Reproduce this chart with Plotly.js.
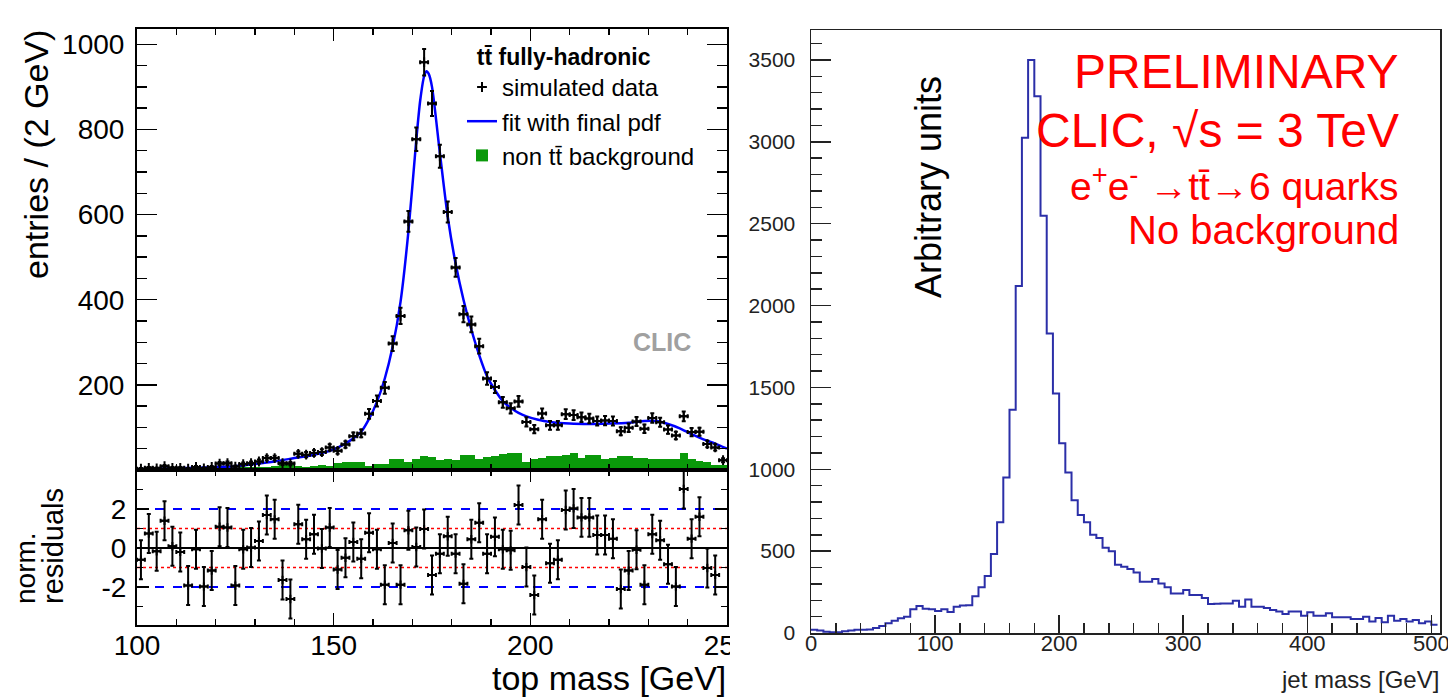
<!DOCTYPE html>
<html>
<head>
<meta charset="utf-8">
<script src="https://cdn.plot.ly/plotly-3.0.1.min.js"></script>
<style>
html,body{margin:0;padding:0;background:#ffffff;}
#chart{width:1448px;height:697px;}
</style>
</head>
<body>
<div id="chart"></div>
<script>
// ---------- left panel: top mass fit (2 GeV bins) ----------
const topMassCenters = [101,103,105,107,109,111,113,115,117,119,
  121,123,125,127,129,131,133,135,137,139,
  141,143,145,147,149,151,153,155,157,159,
  161,163,165,167,169,171,173,175,177,179,
  181,183,185,187,189,191,193,195,197,199,
  201,203,205,207,209,211,213,215,217,219,
  221,223,225,227,229,231,233,235,237,239,
  241,243,245,247,249];
const simulatedData = [3,5,4,9,5,5,3,7,4,7,
  15,16,8,14,16,20,28,28,16,15,
  38,36,40,42,53,45,60,79,86,132,
  162,193,297,362,584,777,958,861,737,606,
  476,366,342,291,215,195,159,145,161,113,
  96,133,105,105,131,129,124,121,115,116,
  115,91,99,114,97,122,112,95,81,126,
  89,90,61,53,23];
const nonTTbarBackground = [1,2,1,2,2,3,2,3,3,4,
  4,5,4,6,7,8,7,10,15,14,
  9,8,9,12,10,17,18,18,18,10,
  14,14,26,26,18,26,33,30,24,26,
  24,35,35,27,30,32,38,40,40,18,
  27,29,32,32,35,40,29,35,35,27,
  29,32,32,29,29,27,27,25,25,40,
  27,22,18,12,11];
const normResiduals = [-0.6,0.74,-0.17,1.4,0.09,-0.2,-1.93,-0.07,-1.98,-1.16,
  1.09,1.05,-1.93,-0.07,0.02,0.36,1.69,1.47,-1.64,-2.62,
  1.22,0.45,0.71,-0.03,1.05,-1.1,-0.5,0.31,-0.55,0.78,
  -0.07,-1.88,0.26,-1.88,0.91,0.05,0.97,-1.38,-0.29,0.6,
  -0.29,-1.84,0.45,1.29,-0.29,0.57,-0.07,-0.12,2.2,-0.98,
  -2.41,1.48,-0.78,-0.6,1.95,2.03,1.57,1.57,0.66,0.66,
  0.48,-2.1,-1.16,-0.09,-1.88,0.71,0.4,-0.84,-1.98,3.03,
  0.48,1.6,-1.03,-1.38,-7.0];
const fitMass = [100,105,110,115,120,125,130,135,140,145,149,153,157,159,161,163,165,167,169,171,172,173,173.6,174.2,175,177,179,181,183,185,187,189,191,193,195,197,199,202,205,210,215,220,225,229,232,235,238,241,244,247,250];
const fitValue = [2,3,4,5,7,9,14,20,28,36,45,62,90,120,160,215,290,395,560,775,868,925,937,930,900,745,595,485,400,330,270,220,188,162,146,134,126,118,113,109,108,109,111,115,115,108,98,84,72,62,50];
const residualLevels = [2, 1, 0, -1, -2];

// ---------- right panel: jet mass (5 GeV bins) ----------
const jetMassBinLowEdges = [0,5,10,15,20,25,30,35,40,45,50,55,60,65,70,75,80,85,90,95,
  100,105,110,115,120,125,130,135,140,145,150,155,160,165,170,175,180,185,190,195,
  200,205,210,215,220,225,230,235,240,245,250,255,260,265,270,275,280,285,290,295,
  300,305,310,315,320,325,330,335,340,345,350,355,360,365,370,375,380,385,390,395,
  400,405,410,415,420,425,430,435,440,445,450,455,460,465,470,475,480,485,490,495,500];
const jetMassUpperEdge = 505;
const jetMassCounts = [20,15,8,5,5,10,15,20,20,22,
  30,43,60,75,90,100,145,165,148,145,
  135,145,128,160,168,170,225,280,348,483,
  676,949,1364,2120,3025,3500,3278,2549,1830,1463,
  1159,980,811,720,676,600,580,520,499,417,
  405,391,370,313,313,330,303,279,242,242,
  263,232,232,214,177,178,180,180,197,161,
  204,161,161,153,140,132,116,132,132,106,
  126,106,106,120,96,96,96,86,86,100,
  71,92,65,106,75,86,71,79,59,71,
  51];

// ---------- geometry helpers (page pixels -> paper fractions) ----------
const W = 1448, H = 697;
const px = x => x / W;
const py = y => 1 - y / H;
const FONT = 'Liberation Sans, Arial, sans-serif';

const traces = [
  {
    type: 'bar', x: topMassCenters, y: nonTTbarBackground, width: 2,
    xaxis: 'x', yaxis: 'y',
    marker: {color: '#0a990a', line: {width: 0}},
    name: 'non tt\u0304 background',
    legendgroup: 'c', legendrank: 3
  },
  {
    type: 'scatter', mode: 'lines', x: fitMass, y: fitValue,
    xaxis: 'x', yaxis: 'y',
    line: {color: '#0000ff', width: 2.5, shape: 'spline', smoothing: 0.7},
    name: 'fit with final pdf', legendgroup: 'b', legendrank: 2
  },
  {
    type: 'scatter', mode: 'markers', x: topMassCenters, y: simulatedData,
    xaxis: 'x', yaxis: 'y',
    marker: {symbol: 'cross-thin', size: 7, color: '#000', line: {width: 2, color: '#000'}},
    error_y: {type: 'data', array: simulatedData.map(v => Math.sqrt(v)), color: '#000', thickness: 2, width: 2},
    error_x: {type: 'constant', value: 1, color: '#000', thickness: 2, width: 2},
    name: 'simulated data', legendgroup: 'a', legendrank: 1
  },
  {
    type: 'scatter', mode: 'markers', x: topMassCenters, y: normResiduals,
    xaxis: 'x2', yaxis: 'y2',
    marker: {symbol: 'cross-thin', size: 6, color: '#000', line: {width: 2, color: '#000'}},
    error_y: {type: 'constant', value: 1, color: '#000', thickness: 2, width: 2},
    error_x: {type: 'constant', value: 1, color: '#000', thickness: 2, width: 2},
    showlegend: false, hoverinfo: 'skip'
  },
  {
    type: 'scatter', mode: 'lines',
    x: jetMassBinLowEdges.concat([jetMassUpperEdge]),
    y: jetMassCounts.concat([jetMassCounts[jetMassCounts.length - 1]]),
    xaxis: 'x3', yaxis: 'y3',
    line: {color: '#2b2fa8', width: 2, shape: 'hv'},
    showlegend: false
  }
];

const levelStyle = {2: {color: '#0000ff', width: 2, dash: 'dash'},
                    1: {color: '#ff0000', width: 1.5, dash: 'dot'},
                    0: {color: '#000000', width: 2, dash: 'solid'}};
const shapes = residualLevels.map(l => ({
  type: 'line', xref: 'x2 domain', yref: 'y2', x0: 0, x1: 1, y0: l, y1: l,
  line: levelStyle[Math.abs(l)], layer: 'below'
}));
// white mask reproducing the cropped "25" label at the panel edge
shapes.push({type: 'rect', xref: 'paper', yref: 'paper', x0: px(730), x1: px(758), y0: py(668), y1: py(628),
  fillcolor: '#ffffff', line: {width: 0}, layer: 'above'});

const axisCommon = {showgrid: false, zeroline: false, showline: true, linecolor: '#000', linewidth: 2,
  ticks: 'inside', tickcolor: '#000', tickwidth: 1.5, tickfont: {family: FONT, size: 28, color: '#000'}};

const layout = {
  width: W, height: H, autosize: false,
  margin: {l: 0, r: 0, t: 0, b: 0, pad: 0},
  paper_bgcolor: '#ffffff', plot_bgcolor: '#ffffff',
  font: {family: FONT, color: '#000'},
  bargap: 0,
  showlegend: true,
  xaxis: Object.assign({}, axisCommon, {
    domain: [px(137), px(727)], range: [100, 250], anchor: 'y',
    tickmode: 'linear', tick0: 0, dtick: 50, ticklen: 12, mirror: 'ticks', showticklabels: false,
    minor: {tickmode: 'linear', tick0: 0, dtick: 10, ticklen: 6, ticks: 'inside', tickcolor: '#000', tickwidth: 1.5}
  }),
  yaxis: Object.assign({}, axisCommon, {
    domain: [py(470), py(29)], range: [0, 1036], anchor: 'x',
    tickmode: 'array', tickvals: [200, 400, 600, 800, 1000], ticktext: ['200', '400', '600', '800', '1000'],
    ticklen: 20, mirror: 'ticks', ticklabelstandoff: 5,
    minor: {tickmode: 'linear', tick0: 0, dtick: 50, ticklen: 10, ticks: 'inside', tickcolor: '#000', tickwidth: 1.5}
  }),
  xaxis2: Object.assign({}, axisCommon, {
    domain: [px(137), px(727)], range: [100, 250], anchor: 'y2',
    tickmode: 'array', tickvals: [100, 150, 200, 250], ticktext: ['100', '150', '200', '250'],
    ticklen: 12, mirror: 'ticks', ticklabelstandoff: -6, ticklabeloverflow: 'allow',
    minor: {tickmode: 'linear', tick0: 0, dtick: 10, ticklen: 6, ticks: 'inside', tickcolor: '#000', tickwidth: 1.5}
  }),
  yaxis2: Object.assign({}, axisCommon, {
    domain: [py(625), py(470)], range: [-3.95, 4.0], anchor: 'x2',
    tickmode: 'array', tickvals: [-2, 0, 2], ticktext: ['-2', '0', '2'],
    ticklen: 12, mirror: 'ticks', ticklabelstandoff: 3,
    minor: {tickmode: 'linear', tick0: 0, dtick: 1, ticklen: 6, ticks: 'inside', tickcolor: '#000', tickwidth: 1.5}
  }),
  xaxis3: Object.assign({}, axisCommon, {
    domain: [px(811), px(1440)], range: [0, 507], anchor: 'y3',
    linewidth: 1.5, linecolor: '#222', tickcolor: '#222',
    tickmode: 'linear', tick0: 0, dtick: 100, ticklen: 18, mirror: true,
    tickfont: {family: FONT, size: 22, color: '#222'}, ticklabelstandoff: -10, ticklabeloverflow: 'allow',
    minor: {tickmode: 'linear', tick0: 0, dtick: 20, ticklen: 10, ticks: 'inside', tickcolor: '#222', tickwidth: 1.5}
  }),
  yaxis3: Object.assign({}, axisCommon, {
    domain: [py(633), py(30)], range: [0, 3683], anchor: 'x3',
    linewidth: 1.5, linecolor: '#222', tickcolor: '#222',
    tickmode: 'linear', tick0: 0, dtick: 500, ticklen: 20, mirror: true,
    tickfont: {family: FONT, size: 21, color: '#222'}, ticklabelstandoff: 10,
    minor: {tickmode: 'linear', tick0: 0, dtick: 100, ticklen: 11, ticks: 'inside', tickcolor: '#222', tickwidth: 1.5}
  }),
  legend: {
    x: px(462), y: py(35), xanchor: 'left', yanchor: 'top',
    bgcolor: 'rgba(0,0,0,0)', borderwidth: 0,
    font: {family: FONT, size: 24, color: '#000'},
    title: {text: '\u00a0\u00a0<b>tt\u0304 fully-hadronic</b>', font: {family: FONT, size: 23, color: '#000'}},
    tracegroupgap: 5, itemwidth: 30, traceorder: 'normal'
  },
  shapes: shapes,
  annotations: [
    {text: 'entries / (2 GeV)', xref: 'paper', yref: 'paper', x: px(36), y: py(155), textangle: -90,
      showarrow: false, xanchor: 'center', yanchor: 'middle', font: {family: FONT, size: 34, color: '#000'}},
    {text: 'norm.', xref: 'paper', yref: 'paper', x: px(25), y: py(606), textangle: -90,
      showarrow: false, xanchor: 'center', yanchor: 'bottom', font: {family: FONT, size: 28, color: '#000'}},
    {text: 'residuals', xref: 'paper', yref: 'paper', x: px(53), y: py(606), textangle: -90,
      showarrow: false, xanchor: 'center', yanchor: 'bottom', font: {family: FONT, size: 29, color: '#000'}},
    {text: 'top mass [GeV]', xref: 'paper', yref: 'paper', x: px(728), y: py(678),
      showarrow: false, xanchor: 'right', yanchor: 'middle', font: {family: FONT, size: 34, color: '#000'}},
    {text: '<b>CLIC</b>', xref: 'paper', yref: 'paper', x: px(662), y: py(342),
      showarrow: false, xanchor: 'center', yanchor: 'middle', font: {family: FONT, size: 25, color: '#a0a0a0'}},
    {text: 'Arbitrary units', xref: 'paper', yref: 'paper', x: px(928), y: py(187), textangle: -90,
      showarrow: false, xanchor: 'center', yanchor: 'middle', font: {family: FONT, size: 36, color: '#000'}},
    {text: 'jet mass [GeV]', xref: 'paper', yref: 'paper', x: px(1441), y: py(679),
      showarrow: false, xanchor: 'right', yanchor: 'middle', font: {family: FONT, size: 24, color: '#222'}},
    {text: 'PRELIMINARY', xref: 'paper', yref: 'paper', x: px(1401), y: py(72),
      showarrow: false, xanchor: 'right', yanchor: 'middle', font: {family: FONT, size: 48, color: '#ff0000'}},
    {text: 'CLIC, \u221As = 3 TeV', xref: 'paper', yref: 'paper', x: px(1401), y: py(130),
      showarrow: false, xanchor: 'right', yanchor: 'middle', font: {family: FONT, size: 48, color: '#ff0000'}},
    {text: 'e<sup>+</sup>e<sup>-</sup> \u2192tt\u0304\u21926 quarks', xref: 'paper', yref: 'paper', x: px(1401), y: py(184),
      showarrow: false, xanchor: 'right', yanchor: 'middle', font: {family: FONT, size: 39, color: '#ff0000'}},
    {text: 'No background', xref: 'paper', yref: 'paper', x: px(1401), y: py(230),
      showarrow: false, xanchor: 'right', yanchor: 'middle', font: {family: FONT, size: 40, color: '#ff0000'}}
  ]
};

Plotly.newPlot('chart', traces, layout, {displayModeBar: false, staticPlot: true});
</script>
</body>
</html>
